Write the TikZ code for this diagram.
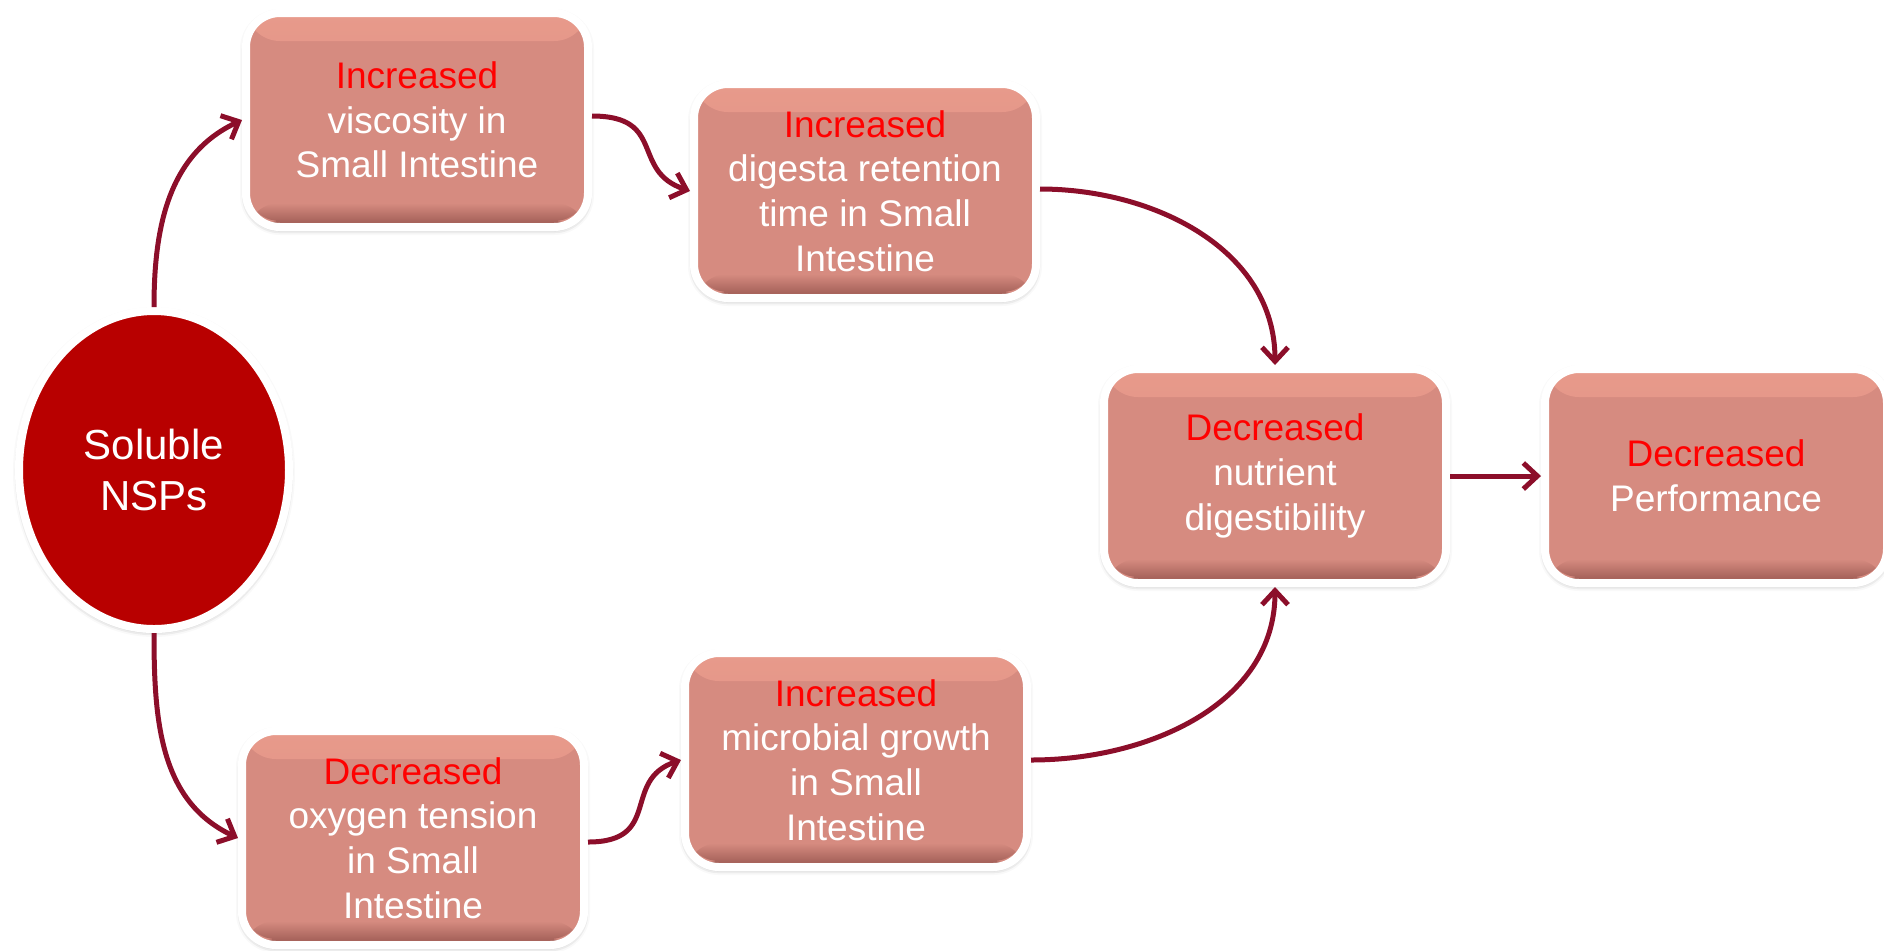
\documentclass[tikz,border=0pt]{standalone}
\usepackage{fontspec}
\setmainfont{Liberation Sans}
\usetikzlibrary{arrows.meta,shapes.geometric,shadows.blur}

\definecolor{boxfill}{RGB}{214,139,128}
\definecolor{boxtop}{RGB}{232,154,139}
\definecolor{boxlow}{RGB}{168,100,92}
\definecolor{nspfill}{RGB}{184,0,0}
\definecolor{linkcol}{RGB}{140,14,42}
\definecolor{hot}{RGB}{255,0,0}

\tikzset{
  stage/.style={rectangle, rounded corners=17pt, fill=boxfill, draw=white,
    line width=4pt, minimum width=171pt, minimum height=107pt, inner sep=0pt,
    text=white, align=center, font=\fontsize{18.5}{22.3}\selectfont,
    blur shadow={shadow xshift=0pt, shadow yshift=-1pt,
      shadow blur radius=3pt, shadow opacity=40},
    path picture={
      % soft bevel: light upper rim, dark lower rim
      \shade[top color=boxtop, bottom color=boxfill]
        (path picture bounding box.north west)
        rectangle ([yshift=-14pt]path picture bounding box.north east);
      \shade[top color=boxfill, bottom color=boxlow]
        ([yshift=12pt]path picture bounding box.south west)
        rectangle ([yshift=3pt]path picture bounding box.south east);
      \fill[boxlow] ([yshift=3pt]path picture bounding box.south west)
        rectangle (path picture bounding box.south east);
    }},
  source/.style={ellipse, fill=nspfill, draw=white, line width=4pt,
    minimum width=135pt, minimum height=159pt, inner sep=0pt,
    text=white, align=center, font=\fontsize{21}{25.5}\selectfont,
    blur shadow={shadow xshift=0pt, shadow yshift=-1pt,
      shadow blur radius=3pt, shadow opacity=40}},
  link/.style={draw=linkcol, line width=2.5pt,
    -{Straight Barb[length=7pt,width=13pt]}},
}
\newcommand{\hl}[1]{\textcolor{hot}{#1}}

\begin{document}
\begin{tikzpicture}[x=0.5pt,y=-0.5pt]
  \useasboundingbox (0,0) rectangle (1884,950);

  \node[source] (nsp) at (154,470) {Soluble\\NSPs};

  \node[stage] (visc) at (417,120) {\hl{Increased}\\viscosity in\\Small Intestine};
  \node[stage] (ret)  at (865,191) {\hl{Increased}\\digesta retention\\time in Small\\Intestine};
  \node[stage] (dig)  at (1275,476) {\hl{Decreased}\\nutrient\\digestibility};
  \node[stage] (perf) at (1716,476) {\hl{Decreased}\\Performance};
  \node[stage] (oxy)  at (413,838) {\hl{Decreased}\\oxygen tension\\in Small\\Intestine};
  \node[stage] (mic)  at (856,760) {\hl{Increased}\\microbial growth\\in Small\\Intestine};

  \draw[link] (nsp.north) to[out=90,in=205] (visc.west);
  \draw[link] (nsp.south) to[out=-90,in=155] (oxy.west);
  \draw[link] ([yshift=2pt]visc.east) .. controls +(75,0) and +(-60,-20) .. (ret.west);
  \draw[link] ([yshift=1pt]ret.east) to[out=0,in=90] (dig.north);
  \draw[link] ([yshift=-2pt]oxy.east) .. controls +(75,0) and +(-60,20) .. (mic.west);
  \draw[link] (mic.east) to[out=0,in=-90] (dig.south);
  \draw[link] (dig.east) -- (perf.west);
\end{tikzpicture}
\end{document}
